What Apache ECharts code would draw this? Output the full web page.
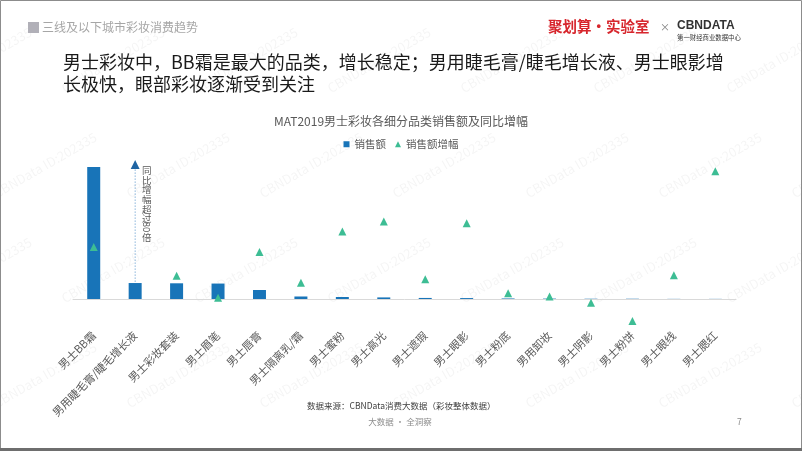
<!DOCTYPE html>
<html><head><meta charset="utf-8">
<script src="https://cdn.jsdelivr.net/npm/echarts@6/dist/echarts.min.js"></script>
<style>html,body{margin:0;padding:0;background:#fff}#c{width:802px;height:451px}</style>
</head><body><div id="c"></div>
<script>
const categories = ['男士BB霜','男用睫毛膏/睫毛增长液','男士彩妆套装','男士眉笔','男士唇膏','男士隔离乳/霜','男士蜜粉','男士高光','男士遮瑕','男士眼影','男士粉底','男用卸妆','男士阴影','男士粉饼','男士眼线','男士腮红'];
// relative sales index (BB霜 = 100)
const sales = [100, 12.1, 11.9, 11.7, 6.8, 1.9, 1.5, 1.2, 0.8, 0.7, 0.4, 0.3, 0.2, 0.2, 0.1, 0.1];
// YoY growth (%)
const growth = [197, 8000, 88, 5, 178, 62, 256, 294, 75, 287, 22, 9, -14, -83, 90, 484];
const growthCap = 509; // display cap for values beyond the axis
const legendNames = ['销售额', '销售额增幅'];

const FONT = '"Noto Sans CJK SC","Noto Sans",sans-serif';
const chart = echarts.init(document.getElementById('c'), null, {renderer: 'canvas'});

const wm = [];
const rows = [60, 165, 270, 375];
rows.forEach((y, r) => {
  for (let x = -20 + (r % 2) * 65; x < 860; x += 133) {
    wm.push({type: 'text', x: x, y: y, rotation: Math.PI / 6, z: 0, silent: true,
      style: {text: 'CBNData ID:202335', font: '13px ' + FONT, fill: 'rgba(0,0,0,0.045)', align: 'center', verticalAlign: 'middle'}});
  }
});

const scatterData = growth.map((v, i) => v > growthCap
  ? {value: [i, growthCap], itemStyle: {color: '#1f64a3'}, symbolSize: 9}
  : {value: [i, v]});

const option = {
  animation: false,
  textStyle: {fontFamily: FONT},
  grid: {left: 73, right: 66, top: 147.2, bottom: 125.6, containLabel: false},
  legend: {
    data: [{name: legendNames[0], icon: 'rect'}, {name: legendNames[1], icon: 'triangle'}],
    top: 139, left: 'center', padding: 0, itemWidth: 6, itemHeight: 6, itemGap: 9,
    textStyle: {fontSize: 10.5, color: '#595959', fontFamily: FONT}
  },
  xAxis: {
    type: 'category', data: categories,
    axisLine: {onZero: true, lineStyle: {color: '#d9d9d9', width: 1}},
    axisTick: {show: false},
    axisLabel: {rotate: 45, interval: 0, fontSize: 11, color: '#595959', margin: 8, fontFamily: FONT}
  },
  yAxis: [
    {type: 'value', min: -20, max: 115, show: false, splitLine: {show: false}},
    {type: 'value', min: -100, max: 575, show: false, splitLine: {show: false}}
  ],
  series: [
    {name: legendNames[0], type: 'bar', yAxisIndex: 0, data: sales, barWidth: 13,
      itemStyle: {color: '#1874b8'}, z: 2},
    {name: legendNames[1], type: 'scatter', yAxisIndex: 1, data: scatterData, symbol: 'triangle',
      symbolSize: 8, itemStyle: {color: '#3dbd94', opacity: 1}, z: 3}
  ]
};
chart.setOption(option);

const capPt = chart.convertToPixel({seriesIndex: 1}, [1, growthCap]);
const barTop = chart.convertToPixel({seriesIndex: 0}, [1, sales[1]]);
const tx = capPt[0] + 11.5, ty = capPt[1];
const noteChars = ['同', '比', '增', '幅', '超', '过'];
const noteOffs = [5.5, 15.3, 25, 34.7, 44.3, 53.8];
const note = noteChars.map((c, k) => ({type: 'text', x: tx, y: ty + noteOffs[k], z: 50,
  style: {text: c, font: '9.5px ' + FONT, fill: '#595959', align: 'center', verticalAlign: 'middle'}}));

const graphics = wm.concat([
  {type: 'rect', shape: {x: 0.5, y: 0.5, width: 801, height: 450}, style: {fill: 'none', stroke: '#8c8c8c', lineWidth: 1}, silent: true},
  {type: 'rect', shape: {x: 0, y: 448, width: 802, height: 3}, style: {fill: '#6e6e6e'}, silent: true},
  {type: 'rect', shape: {x: 28, y: 22, width: 11, height: 11}, style: {fill: '#b1b0b8'}},
  {type: 'text', x: 42, y: 27.5, style: {text: '三线及以下城市彩妆消费趋势', font: '12px ' + FONT, fill: '#a6a6a6', verticalAlign: 'middle'}},
  {type: 'text', x: 548, y: 26, style: {text: '聚划算·实验室', font: 'bold 14.5px ' + FONT, fill: '#d7262d', verticalAlign: 'middle'}},
  {type: 'text', x: 660, y: 27, style: {text: '×', font: '10px ' + FONT, fill: '#7f7f7f', verticalAlign: 'middle'}},
  {type: 'text', x: 677, y: 25.5, style: {text: 'CBNDATA', font: 'bold 12px "Liberation Sans",sans-serif', fill: '#333333', verticalAlign: 'middle'}},
  {type: 'text', x: 677, y: 38, style: {text: '第一财经商业数据中心', font: '6.4px ' + FONT, fill: '#333333', verticalAlign: 'middle'}},
  {type: 'text', x: 63, y: 62, style: {text: '男士彩妆中，BB霜是最大的品类，增长稳定；男用睫毛膏/睫毛增长液、男士眼影增', font: '18px ' + FONT, fill: '#1a1a1a', verticalAlign: 'middle'}},
  {type: 'text', x: 63, y: 84, style: {text: '长极快，眼部彩妆逐渐受到关注', font: '18px ' + FONT, fill: '#1a1a1a', verticalAlign: 'middle'}},
  {type: 'text', x: 401, y: 121, style: {text: 'MAT2019男士彩妆各细分品类销售额及同比增幅', font: '12px ' + FONT, fill: '#595959', align: 'center', verticalAlign: 'middle'}},
  {type: 'text', x: 307, y: 406, style: {text: '数据来源：CBNData消费大数据（彩妆整体数据）', font: '8.5px ' + FONT, fill: '#404040', verticalAlign: 'middle'}},
  {type: 'text', x: 400, y: 422, style: {text: '大数据 · 全洞察', font: '8.5px ' + FONT, fill: '#8c8c8c', align: 'center', verticalAlign: 'middle'}},
  {type: 'text', x: 737, y: 422, style: {text: '7', font: '8.5px ' + FONT, fill: '#8c8c8c', verticalAlign: 'middle'}},
  {type: 'line', shape: {x1: capPt[0], y1: capPt[1] + 5, x2: barTop[0], y2: barTop[1]}, style: {stroke: '#4f8fc9', lineWidth: 1, lineDash: [1, 2]}},
  {type: 'text', x: tx, y: ty + 62.5, rotation: -Math.PI / 2, z: 50, style: {text: '80', font: '9.5px ' + FONT, fill: '#595959', align: 'center', verticalAlign: 'middle'}},
  {type: 'text', x: tx, y: ty + 72.5, z: 50, style: {text: '倍', font: '9.5px ' + FONT, fill: '#595959', align: 'center', verticalAlign: 'middle'}}
]).concat(note);
chart.setOption({graphic: graphics});
</script></body></html>
